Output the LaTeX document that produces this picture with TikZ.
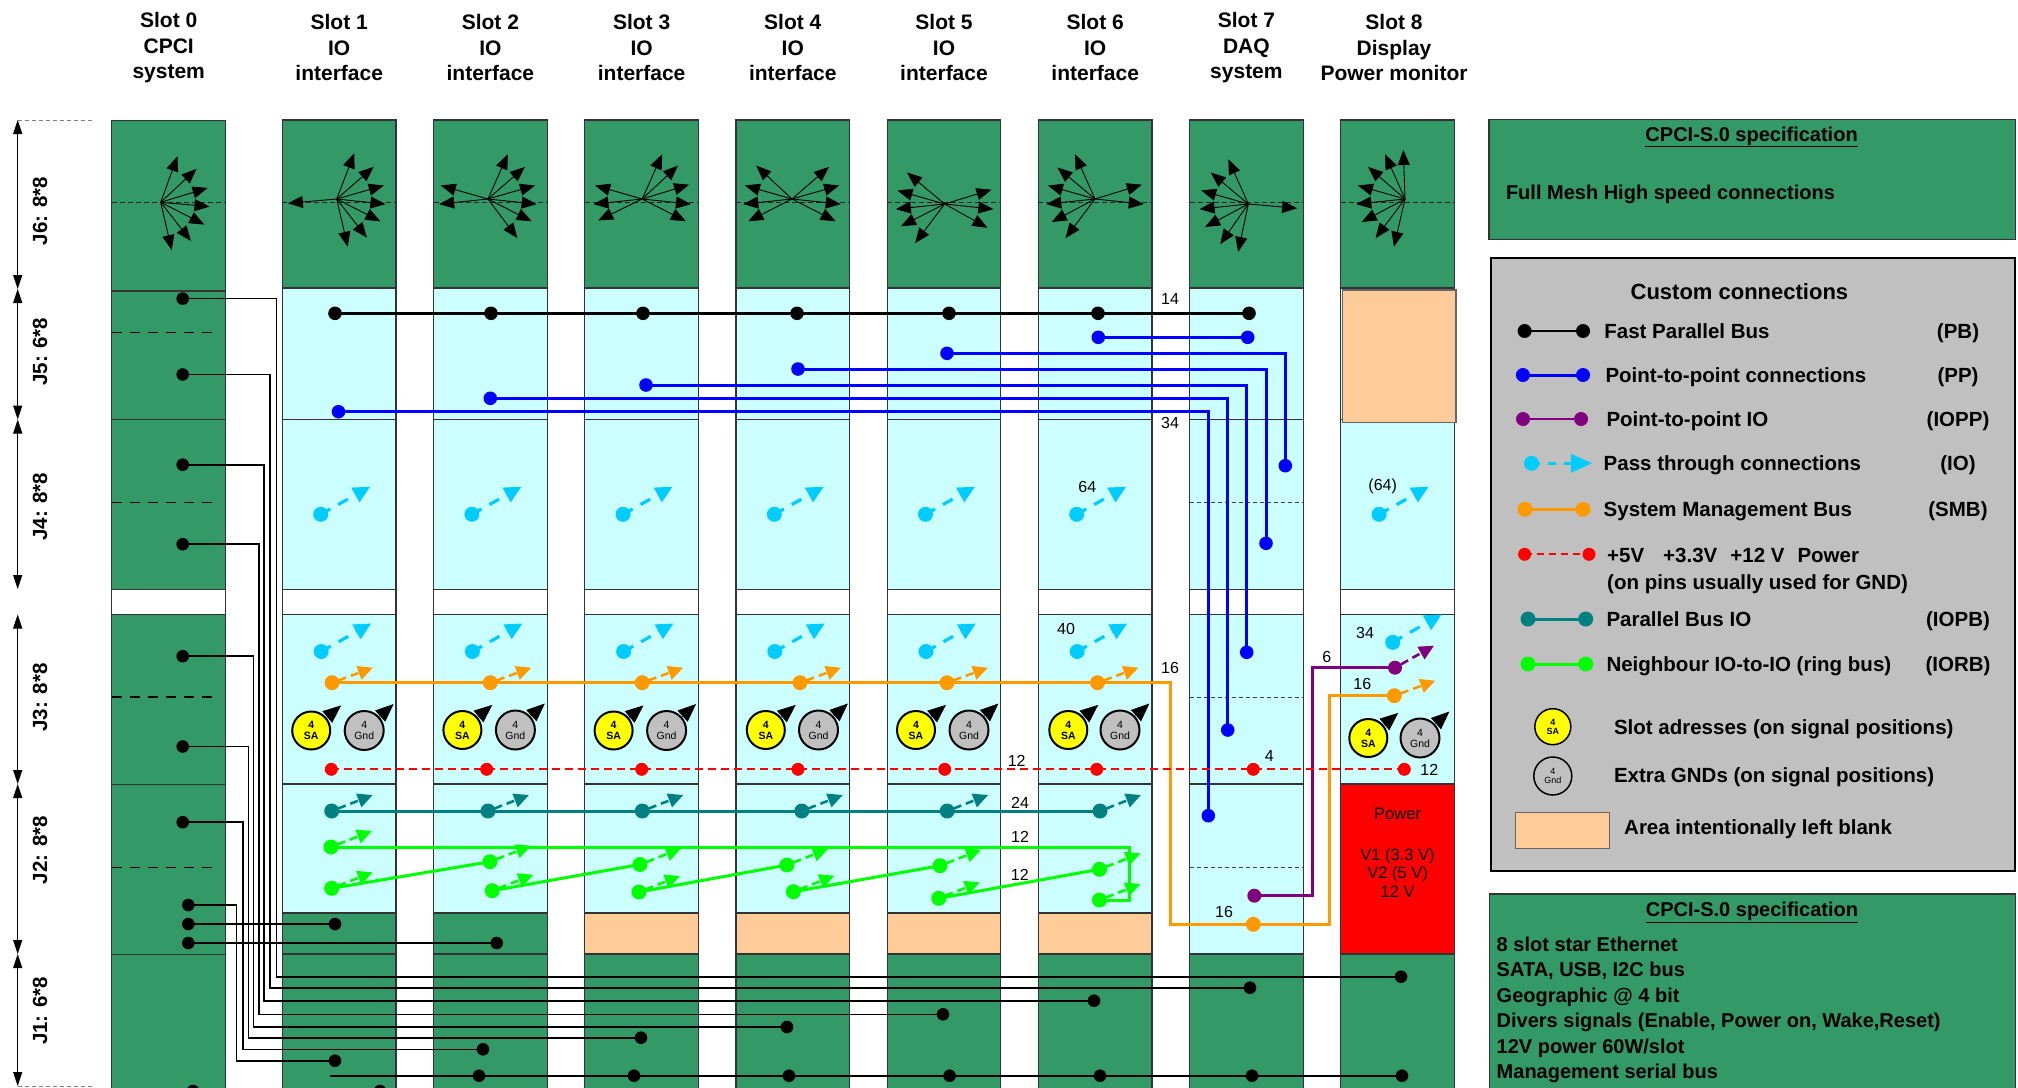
\documentclass[tikz,border=0pt]{standalone}
\usepackage{fontspec}
\setmainfont{Liberation Sans}
\usetikzlibrary{arrows.meta,calc}
\definecolor{sgreen}{HTML}{339966}
\definecolor{lcyan}{HTML}{CCFFFF}
\definecolor{peach}{HTML}{FFCC99}
\definecolor{lgray}{HTML}{C0C0C0}
\definecolor{ppblue}{HTML}{0000FF}
\definecolor{iopurple}{HTML}{800080}
\definecolor{iocyan}{HTML}{00CCFF}
\definecolor{smborange}{HTML}{FF9900}
\definecolor{pbteal}{HTML}{008080}
\definecolor{rbgreen}{HTML}{00FF00}
\definecolor{pwred}{HTML}{FF0000}
\definecolor{sayellow}{HTML}{FFFF00}
\newcommand\fanat[3]{\foreach \a in {#3}{\draw[fanarrow] (#1,#2) -- ++(\a:49);}}
\begin{document}
\begin{tikzpicture}[x=1pt,y=-1pt,
  colbox/.style={draw=black!80,line width=1.2},
  j6dash/.style={draw=black!85,line width=1,dash pattern=on 5pt off 3pt},
  s0dash/.style={draw=black,line width=1.3,dash pattern=on 10pt off 8pt},
  s7dash/.style={draw=black!75,line width=1,dash pattern=on 4pt off 3pt},
  fanarrow/.style={line width=0.9,-{Triangle[length=15pt,width=12pt]}},
  dimarrow/.style={line width=1,{Triangle[length=14pt,width=9pt]}-{Triangle[length=14pt,width=9pt]}},
  pbl/.style={line width=2.7,draw=black},
  ppl/.style={line width=3,draw=ppblue},
  iol/.style={line width=2.6,draw=iopurple},
  smbl/.style={line width=3,draw=smborange},
  pwl/.style={line width=2,draw=pwred,dash pattern=on 8pt off 5pt},
  tl/.style={line width=3,draw=pbteal},
  gl/.style={line width=3,draw=rbgreen},
  j1l/.style={line width=1.6,draw=black},
  ioarr/.style={draw=iocyan,line width=3.2,dash pattern=on 11pt off 9pt,-{Triangle[length=17pt,width=16pt]}},
  sarr/.style={draw=#1,line width=2.6,dash pattern=on 8pt off 5pt,shorten <=7pt,-{Triangle[length=15pt,width=14pt]}},
  hdr/.style={align=center,font=\fontsize{21}{25.7}\selectfont\bfseries,inner sep=0},
  num/.style={font=\fontsize{16}{18}\selectfont,inner sep=0},
  dimlbl/.style={font=\fontsize{20.5}{24}\selectfont\bfseries,inner sep=0,rotate=90},
  lgtxt/.style={font=\fontsize{20.5}{25}\selectfont\bfseries,inner sep=0,anchor=base west},
  lgab/.style={font=\fontsize{20.5}{25}\selectfont\bfseries,inner sep=0,anchor=base},
  spectxt/.style={font=\fontsize{20}{25}\selectfont\bfseries,inner sep=0,anchor=base west},
  sa/.style={circle,draw=black,line width=2,fill=sayellow,minimum size=38pt,inner sep=0,align=center,font=\fontsize{10.5}{11}\selectfont\bfseries},
  gnd/.style={circle,draw=black,line width=2,fill=lgray,minimum size=39pt,inner sep=0,align=center,font=\fontsize{10.5}{11}\selectfont},
  satip/.style={line width=0.5,-{Triangle[length=18pt,width=15pt]}},
]
\useasboundingbox (0,0) rectangle (2018,1087);
\fill[white] (0,0) rectangle (2018,1087);

% ---------- headers
\node[hdr] (h0) at (168.7,47.6) {Slot 0\\CPCI\\system};
\node[hdr] (h1) at (339.2,47.6) {Slot 1\\IO\\interface};
\node[hdr] (h2) at (490.4,47.6) {Slot 2\\IO\\interface};
\node[hdr] (h3) at (641.6,47.6) {Slot 3\\IO\\interface};
\node[hdr] (h4) at (792.8,47.6) {Slot 4\\IO\\interface};
\node[hdr] (h5) at (944.0,47.6) {Slot 5\\IO\\interface};
\node[hdr] (h6) at (1095.2,47.6) {Slot 6\\IO\\interface};
\node[hdr] (h7) at (1246.4,47.6) {Slot 7\\DAQ\\system};
\node[hdr] (h8) at (1394.0,47.6) {Slot 8\\Display\\Power monitor};

% ---------- left dimension arrows
\draw[gray,line width=1,dash pattern=on 4pt off 3pt] (17.7,120) -- (93.3,120);
\draw[gray,line width=1,dash pattern=on 4pt off 3pt] (17.7,1086) -- (93.3,1086);
\draw[dimarrow] (17.7,120) -- (17.7,289);
\draw[dimarrow] (17.7,289) -- (17.7,419.5);
\draw[dimarrow] (17.7,419.5) -- (17.7,589);
\draw[dimarrow] (17.7,614.5) -- (17.7,784);
\draw[dimarrow] (17.7,784) -- (17.7,954);
\draw[dimarrow] (17.7,954) -- (17.7,1086);
\node[dimlbl] (lj6) at (40,211) {J6: 8*8};
\node[dimlbl] (lj5) at (40,351.7) {J5: 6*8};
\node[dimlbl] (lj4) at (40,506.7) {J4: 8*8};
\node[dimlbl] (lj3) at (40,697.5) {J3: 8*8};
\node[dimlbl] (lj2) at (40,850) {J2: 8*8};
\node[dimlbl] (lj1) at (40,1010.8) {J1: 6*8};

% ---------- slot 0 column
\filldraw[fill=sgreen,colbox] (111.7,120.7) rectangle (225.7,1095);
\filldraw[fill=white,colbox] (111.7,589.2) rectangle (225.7,614.1);
\draw[colbox] (111.7,291) -- (225.7,291) (111.7,419.7) -- (225.7,419.7)
  (111.7,784.4) -- (225.7,784.4) (111.7,954.3) -- (225.7,954.3);
\draw[j6dash] (111.7,202.3) -- (225.7,202.3);
\foreach \y in {332.4,502.3,697.1,867.5}{\draw[s0dash] (111.7,\y) -- (218.3,\y);}

% ---------- slots 1..8 columns
\foreach \L in {282.3,433.5,584.7,735.9,887.1,1038.3,1189.5,1340.7}{
  \filldraw[fill=sgreen,colbox] (\L,120) rectangle ++(113.7,168);
  \draw[j6dash] (\L,202.3) -- ++(113.7,0);
  \filldraw[fill=lcyan,colbox] (\L,288) rectangle ++(113.7,131.3);
  \filldraw[fill=lcyan,colbox] (\L,419.3) rectangle ++(113.7,170);
  \filldraw[fill=white,colbox] (\L,589.3) rectangle ++(113.7,25);
  \filldraw[fill=lcyan,colbox] (\L,614.3) rectangle ++(113.7,169.7);
  \filldraw[fill=sgreen,colbox] (\L,954) rectangle ++(113.7,140);
}
\foreach \L in {282.3,433.5,584.7,735.9,887.1,1038.3}{
  \filldraw[fill=lcyan,colbox] (\L,784) rectangle ++(113.7,129);
}
\foreach \L in {282.3,433.5}{\filldraw[fill=sgreen,colbox] (\L,913) rectangle ++(113.7,41);}
\foreach \L in {584.7,735.9,887.1,1038.3}{\filldraw[fill=peach,colbox] (\L,913) rectangle ++(113.7,41);}
\filldraw[fill=lcyan,colbox] (1189.5,784) rectangle ++(113.7,170);
\filldraw[fill=pwred,colbox] (1340.7,784) rectangle ++(113.7,170);
\filldraw[fill=peach,draw=black!60,line width=1.2] (1342.7,290) rectangle (1456,422.7);
\foreach \y in {502.3,697.3,867.3}{\draw[s7dash] (1189.5,\y) -- ++(113.7,0);}

% ---------- J6 full mesh fans
\fanat{160.7}{202.3}{-70,-43,-17,5,27,52,77}
\fanat{336.7}{199}{-185,-69,-41,-16,6,27,52,77}
\fanat{487.9}{199}{-164,-186,-66,-41,-16,6,27,53}
\fanat{642.2}{199}{-164,-186,-206,-66,-43,-17,6,27}
\fanat{792}{199}{-137,-164,-186,-207,-41,-16,6,27}
\fanat{944.6}{204}{-140,-164,-186,-207,-233,-17,6,29}
\fanat{1095}{199}{-114,-140,-164,-186,-208,-233,-17,6}
\fanat{1248.3}{204}{-114,-140,-164,-186,-208,-235,-258,5}
\fanat{1405}{199}{-92,-114,-139,-164,-186,-208,-233,-257}

% ---------- fast parallel bus
\foreach \n/\x in {1/335,2/491,3/643,4/797,5/949,6/1098,7/1249}{\coordinate (pb\n) at (\x,313.3);}
\draw[pbl] (pb1) -- (pb7);
\foreach \n in {1,2,3,4,5,6,7}{\fill[black] (pb\n) circle (6.8);}
\node[num] (n14) at (1170,299.3) {14};

% ---------- point-to-point
\coordinate (pp6) at (1098.3,337.3); \coordinate (pp7a) at (1247.7,337.3);
\coordinate (pp5) at (947,353.3);    \coordinate (pp7b) at (1285.3,465.7);
\coordinate (pp4) at (798,369);      \coordinate (pp7c) at (1266,543.3);
\coordinate (pp3) at (646,385);      \coordinate (pp7d) at (1246.7,652.3);
\coordinate (pp2) at (490.3,398.3);  \coordinate (pp7e) at (1227.7,730);
\coordinate (pp1) at (338.5,411.7);  \coordinate (pp7f) at (1208.3,815.7);
\draw[ppl] (pp6) -- (pp7a);
\draw[ppl] (pp5) -| (pp7b);
\draw[ppl] (pp4) -| (pp7c);
\draw[ppl] (pp3) -| (pp7d);
\draw[ppl] (pp2) -| (pp7e);
\draw[ppl] (pp1) -| (pp7f);
\foreach \n in {pp6,pp7a,pp5,pp7b,pp4,pp7c,pp3,pp7d,pp2,pp7e,pp1,pp7f}{\fill[ppblue] (\n) circle (6.8);}
\node[num] (n34) at (1170,423.3) {34};

% ---------- pass-through IO (J4 and J3)
\foreach \n/\x in {1/320.7,2/471.9,3/623.1,4/774.3,5/925.5,6/1076.7,8/1379.1}{
  \coordinate (ia\n) at (\x,514.3);
  \draw[ioarr] (ia\n) -- ++(49.5,-27.6);
  \fill[iocyan] (ia\n) circle (7.5);
}
\foreach \n/\x in {1/321.2,2/472.4,3/623.6,4/774.8,5/926,6/1077.2}{
  \coordinate (ib\n) at (\x,651.5);
  \draw[ioarr] (ib\n) -- ++(50,-28);
  \fill[iocyan] (ib\n) circle (7.5);
}
\coordinate (ib8) at (1392.7,642.3);
\draw[ioarr] (ib8) -- ++(49,-28);
\fill[iocyan] (ib8) circle (7.5);
\node[num] (n64) at (1087.3,486.7) {64};
\node[num] (n64b) at (1382.7,486.7) {(64)};
\node[num] (n40) at (1066,629) {40};
\node[num] (n34b) at (1365,633.3) {34};

% ---------- system management bus
\foreach \n/\x in {1/332,2/490.3,3/642.2,4/800,5/947,6/1097.5}{\coordinate (o\n) at (\x,682.7);}
\coordinate (oc1) at (1170,682.7);
\coordinate (o7) at (1253.3,924.3);
\coordinate (oc2) at (1329.3,924.3);
\coordinate (o8) at (1394.3,695.7);
\draw[smbl] (o1) -- (oc1) |- (o7) -- (oc2) |- (o8);
\foreach \n in {1,2,3,4,5,6,8}{\draw[sarr=smborange] (o\n) -- ++(41,-15);}
\foreach \n in {1,2,3,4,5,6,7,8}{\fill[smborange] (o\n) circle (7.5);}
\node[num] (n16a) at (1170,667.7) {16};
\node[num] (n16b) at (1224,912.3) {16};
\node[num] (n16c) at (1362.3,684.3) {16};

% ---------- point-to-point IO
\coordinate (p7) at (1254.3,895.7);
\coordinate (pc) at (1312.3,667.7);
\coordinate (p8) at (1395,667.7);
\draw[iol] (p7) -| (pc) -- (p8);
\draw[sarr=iopurple] (p8) -- ++(39,-22);
\fill[iopurple] (p7) circle (7);
\fill[iopurple] (p8) circle (7);
\node[num] (n6) at (1326.7,656.7) {6};

% ---------- slot address / extra GND
\foreach \n/\xs/\xg/\y in {1/311.2/364.2/730.5,2/462.4/515.4/730,3/613.6/666.6/730.5,4/765.8/818.5/730,5/916/969/730,6/1068.3/1120/730,8/1368.3/1420/738}{
  \node[sa] (sa\n) at (\xs,\y) {4\\SA};
  \draw[satip] (sa\n.40) -- ++(-40:19);
  \node[gnd] (gn\n) at (\xg,\y) {4\\Gnd};
  \draw[satip] (gn\n.42) -- ++(-42:19);
}

% ---------- power (red)
\foreach \n/\x in {1/331.3,2/486.7,3/641.7,4/798,5/944.7,6/1096.7,7/1253.3,8/1404.3}{\coordinate (r\n) at (\x,769.3);}
\draw[pwl] (r1) -- (r8);
\foreach \n in {1,2,3,4,5,6,7,8}{\fill[pwred] (r\n) circle (6.5);}
\node[num] (n12a) at (1016.7,760.7) {12};
\node[num] (n4) at (1269.3,756) {4};
\node[num] (n12b) at (1429.3,770) {12};

% ---------- parallel bus IO (teal)
\foreach \n/\x in {1/331.7,2/488,3/642.3,4/801.8,5/947.2,6/1100}{\coordinate (t\n) at (\x,811);}
\draw[tl] (t1) -- (t6);
\foreach \n in {1,2,3,4,5,6}{\draw[sarr=pbteal] (t\n) -- ++(41,-16); \fill[pbteal] (t\n) circle (7.5);}
\node[num] (n24) at (1020,803.3) {24};

% ---------- neighbour ring bus (green)
\coordinate (g1a) at (331,847);     \coordinate (g1b) at (331.7,888.3);
\coordinate (g2a) at (490,861.7);   \coordinate (g2b) at (492.3,890.7);
\coordinate (g3a) at (640,864.5);   \coordinate (g3b) at (639,892);
\coordinate (g4a) at (787,865);     \coordinate (g4b) at (793.4,891.7);
\coordinate (g5a) at (940,865.7);   \coordinate (g5b) at (938.8,898.3);
\coordinate (g6a) at (1099.5,869.3);\coordinate (g6b) at (1099.5,900);
\coordinate (gc1) at (1129.3,847);  \coordinate (gc2) at (1129.3,900);
\draw[gl] (g1a) -- (gc1) -- (gc2) -- (g6b);
\draw[gl] (g1b) -- (g2a);
\draw[gl] (g2b) -- (g3a);
\draw[gl] (g3b) -- (g4a);
\draw[gl] (g4b) -- (g5a);
\draw[gl] (g5b) -- (g6a);
\foreach \n in {g1a,g1b,g2a,g2b,g3a,g3b,g4a,g4b,g5a,g5b,g6a,g6b}{
  \draw[sarr=rbgreen] (\n) -- ++(41,-16);
  \fill[rbgreen] (\n) circle (7.5);
}
\node[num] (n12c) at (1020,837.3) {12};
\node[num] (n12d) at (1019.8,875) {12};

% ---------- power box text
\node[font=\fontsize{16.5}{18.8}\selectfont,inner sep=0] (pwr) at (1397.6,814.3) {Power};
\node[font=\fontsize{16.5}{18.8}\selectfont,inner sep=0,align=center] (pwv) at (1397.6,873) {V1 (3.3 V)\\V2 (5 V)\\12 V};

% ---------- slot 0 custom lines into J1
\foreach \n/\y in {1/298.6,2/374.5,3/464.7,4/544.2,5/656.2,6/746.5,7/822.2}{\coordinate (s\n) at (182.7,\y);}
\foreach \n/\y in {8/905,9/924,10/943}{\coordinate (s\n) at (188.3,\y);}
\coordinate (k1) at (276.3,976.7);  \coordinate (d8) at (1401,976.7);
\coordinate (k2) at (270,987.7);    \coordinate (d7) at (1250,987.7);
\coordinate (k3) at (264,1000.7);   \coordinate (d6) at (1094,1000.7);
\coordinate (k4) at (258.7,1014.3); \coordinate (d5) at (943,1014.3);
\coordinate (k5) at (253.3,1027);   \coordinate (d4) at (787,1027);
\coordinate (k6) at (248.3,1037.7); \coordinate (d3) at (641,1037.7);
\coordinate (k7) at (242.7,1049.3); \coordinate (d2) at (483,1049.3);
\coordinate (k8) at (236.3,1060.7); \coordinate (d1) at (335,1060.7);
\coordinate (u1) at (335,924);
\coordinate (u2) at (496.7,943);
\draw[j1l] (s1) -| (k1) -- (d8);
\draw[j1l] (s2) -| (k2) -- (d7);
\draw[j1l] (s3) -| (k3) -- (d6);
\draw[j1l] (s4) -| (k4) -- (d5);
\draw[j1l] (s5) -| (k5) -- (d4);
\draw[j1l] (s6) -| (k6) -- (d3);
\draw[j1l] (s7) -| (k7) -- (d2);
\draw[j1l] (s8) -| (k8) -- (d1);
\draw[j1l] (s9) -- (u1);
\draw[j1l] (s10) -- (u2);
\coordinate (bl0) at (330,1075.7);
\foreach \n/\x in {2/479,3/634,4/789,5/949.6,6/1100,7/1252,8/1402}{\coordinate (b\n) at (\x,1075.7);}
\draw[j1l] (bl0) -- (b8);
\coordinate (c0) at (193,1091); \coordinate (c1) at (380,1091);
\foreach \n in {s1,s2,s3,s4,s5,s6,s7,s8,s9,s10,d1,d2,d3,d4,d5,d6,d7,d8,u1,u2,b2,b3,b4,b5,b6,b7,b8,c0,c1}{\fill[black] (\n) circle (6.3);}

% ---------- top specification box
\filldraw[fill=sgreen,draw=black!80,line width=1.5] (1489,119.7) rectangle (2015.5,239.4);
\node[spectxt,anchor=base] (sp1t) at (1751.6,141) {\underline{CPCI-S.0 specification}};
\node[spectxt] (sp1a) at (1505.8,199) {Full Mesh High speed connections};

% ---------- legend
\filldraw[fill=lgray,draw=black,line width=2] (1491.3,258.3) rectangle (2014.7,870.7);
\node[font=\fontsize{22}{26}\selectfont\bfseries,inner sep=0,anchor=base] (lgt) at (1739.4,299.6) {Custom connections};
\coordinate (lpa) at (1524.6,331); \coordinate (lpb) at (1583,331);
\draw[pbl] (lpa) -- (lpb); \fill (lpa) circle (7); \fill (lpb) circle (7);
\node[lgtxt] (lt1) at (1604.2,338.3) {Fast Parallel Bus};
\node[lgab] (la1) at (1958,338.3) {(PB)};
\coordinate (lqa) at (1522.9,375); \coordinate (lqb) at (1583,375);
\draw[ppl] (lqa) -- (lqb); \fill[ppblue] (lqa) circle (7); \fill[ppblue] (lqb) circle (7);
\node[lgtxt] (lt2) at (1605.3,382.3) {Point-to-point connections};
\node[lgab] (la2) at (1958,382.3) {(PP)};
\coordinate (lra) at (1523,419); \coordinate (lrb) at (1581,419);
\draw[iol] (lra) -- (lrb); \fill[iopurple] (lra) circle (7); \fill[iopurple] (lrb) circle (7);
\node[lgtxt] (lt3) at (1606.3,426.3) {Point-to-point IO};
\node[lgab] (la3) at (1958,426.3) {(IOPP)};
\coordinate (lsa) at (1531.5,463.3); \coordinate (lsb) at (1592,463.3);
\draw[draw=iocyan,line width=3.2,dash pattern=on 8pt off 8pt,-{Triangle[length=21pt,width=18pt]}] (lsa) -- (lsb);
\fill[iocyan] (lsa) circle (7.5);
\node[lgtxt] (lt4) at (1603.5,470.6) {Pass through connections};
\node[lgab] (la4) at (1958,470.6) {(IO)};
\coordinate (lta) at (1525,509.3); \coordinate (ltb) at (1583,509.3);
\draw[smbl] (lta) -- (ltb); \fill[smborange] (lta) circle (7.5); \fill[smborange] (ltb) circle (7.5);
\node[lgtxt] (lt5) at (1603.5,516.6) {System Management Bus};
\node[lgab] (la5) at (1958,516.6) {(SMB)};
\coordinate (lua) at (1524.6,554.3); \coordinate (lub) at (1589,554.3);
\draw[pwl,dash pattern=on 7pt off 5pt] (lua) -- (lub); \fill[pwred] (lua) circle (6.5); \fill[pwred] (lub) circle (6.5);
\node[lgtxt] (lt6) at (1607,562.3) {+5V\hspace{19pt}+3.3V\hspace{13pt}+12 V\hspace{13pt}Power};
\node[lgtxt] (lt6b) at (1607,589) {(on pins usually used for GND)};
\coordinate (lva) at (1528,619); \coordinate (lvb) at (1585.7,619);
\draw[tl] (lva) -- (lvb); \fill[pbteal] (lva) circle (7.5); \fill[pbteal] (lvb) circle (7.5);
\node[lgtxt] (lt7) at (1606.3,626.3) {Parallel Bus IO};
\node[lgab] (la7) at (1958,626.3) {(IOPB)};
\coordinate (lwa) at (1528,664); \coordinate (lwb) at (1585.7,664);
\draw[gl] (lwa) -- (lwb); \fill[rbgreen] (lwa) circle (7.5); \fill[rbgreen] (lwb) circle (7.5);
\node[lgtxt] (lt8) at (1606.3,671.3) {Neighbour IO-to-IO (ring bus)};
\node[lgab] (la8) at (1958,671.3) {(IORB)};
\node[sa,minimum size=36pt,line width=1.5,font=\fontsize{9}{9.5}\selectfont\bfseries] (lsa1) at (1552.8,726.7) {4\\SA};
\node[lgtxt] (lt9) at (1613.8,734) {Slot adresses (on signal positions)};
\node[gnd,minimum size=38pt,line width=1.5,font=\fontsize{9}{9.5}\selectfont] (lgn1) at (1552.8,776) {4\\Gnd};
\node[lgtxt] (lt10) at (1613.8,782.3) {Extra GNDs (on signal positions)};
\filldraw[fill=peach,draw=black!60,line width=1.2] (1515.3,812.7) rectangle (1609.7,848.3);
\node[lgtxt] (lt11) at (1624,834) {Area intentionally left blank};

% ---------- bottom specification box
\filldraw[fill=sgreen,draw=black!80,line width=1.5] (1489.6,894) rectangle (2015.5,1095);
\node[spectxt,anchor=base] (sp2t) at (1752,916.5) {\underline{CPCI-S.0 specification}};
\node[spectxt] (sp2a) at (1496.5,951.2) {8 slot star Ethernet};
\node[spectxt] (sp2b) at (1496.5,976.5) {SATA, USB, I2C bus};
\node[spectxt] (sp2c) at (1496.5,1002.2) {Geographic @ 4 bit};
\node[spectxt] (sp2d) at (1496.5,1027.9) {Divers signals (Enable, Power on, Wake,Reset)};
\node[spectxt] (sp2e) at (1496.5,1053.2) {12V power 60W/slot};
\node[spectxt] (sp2f) at (1496.5,1078.9) {Management serial bus};
\end{tikzpicture}
\end{document}
